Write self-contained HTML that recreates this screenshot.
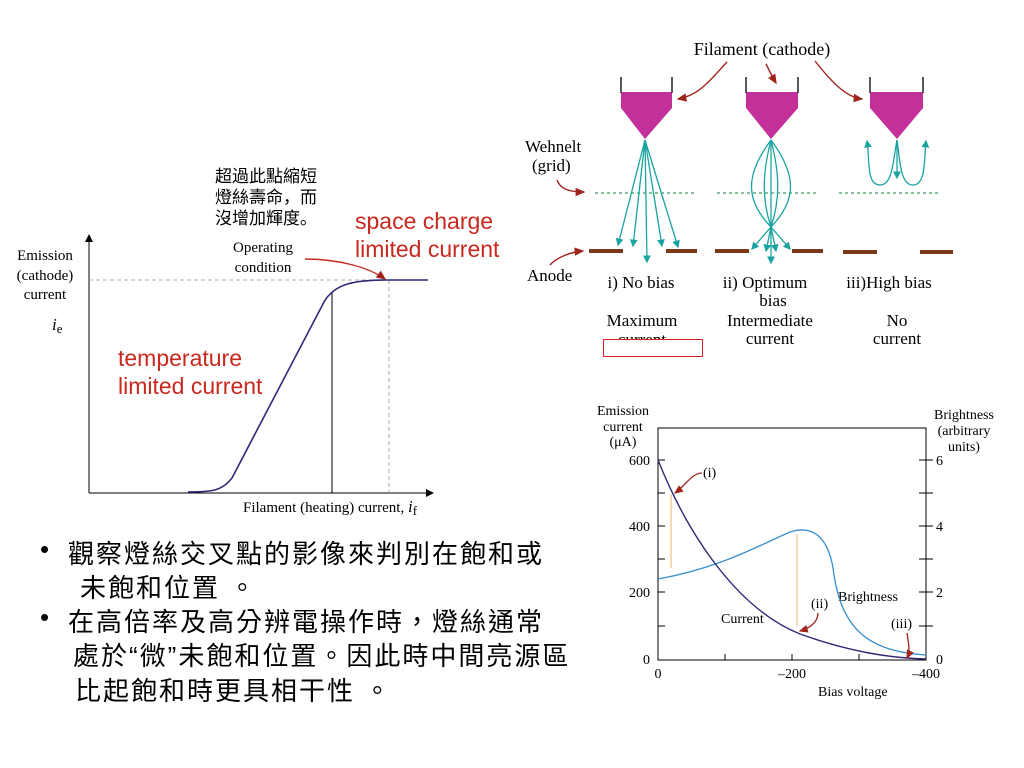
<!DOCTYPE html>
<html><head><meta charset="utf-8"><style>
body{margin:0;background:#fff;width:1024px;height:768px;overflow:hidden;position:relative}
svg{position:absolute;left:0;top:0}
.cj{position:absolute;font-family:"Liberation Sans","WenQuanYi Zen Hei","Noto Sans CJK TC",sans-serif;font-size:26px;letter-spacing:2px;white-space:nowrap;color:#000}
</style></head><body>
<svg width="1024" height="768" viewBox="0 0 1024 768" font-family="Liberation Serif, serif">
<defs>
<marker id="ar" markerWidth="8" markerHeight="8" refX="6" refY="3" orient="auto"><path d="M0,0L7,3L0,6z" fill="#a0231c"/></marker>
<marker id="at" markerWidth="7" markerHeight="7" refX="5" refY="3" orient="auto"><path d="M0,0L6,3L0,6z" fill="#1aa3a0"/></marker>
<marker id="ab" markerWidth="10" markerHeight="10" refX="4" refY="4" orient="auto"><path d="M0,0L8,4L0,8z" fill="#000"/></marker>
</defs>
<!-- left chart -->
<text x="215" y="182" font-family="Liberation Sans, WenQuanYi Zen Hei, sans-serif" font-size="17">超過此點縮短</text>
<text x="215" y="203" font-family="Liberation Sans, WenQuanYi Zen Hei, sans-serif" font-size="17">燈絲壽命，而</text>
<text x="215" y="224" font-family="Liberation Sans, WenQuanYi Zen Hei, sans-serif" font-size="17">沒增加輝度。</text>
<text x="355" y="229" font-family="Liberation Sans, sans-serif" font-size="23" fill="#c8281e">space charge</text>
<text x="355" y="257" font-family="Liberation Sans, sans-serif" font-size="23" fill="#c8281e">limited current</text>
<text x="118" y="366" font-family="Liberation Sans, sans-serif" font-size="23" fill="#c8281e">temperature</text>
<text x="118" y="394" font-family="Liberation Sans, sans-serif" font-size="23" fill="#c8281e">limited current</text>
<text x="45" y="260" text-anchor="middle" font-size="15">Emission</text>
<text x="45" y="280" text-anchor="middle" font-size="15">(cathode)</text>
<text x="45" y="299" text-anchor="middle" font-size="15">current</text>
<text x="52" y="330" font-size="17" font-style="italic">i<tspan font-size="13" font-style="normal" dy="3">e</tspan></text>
<text x="263" y="252" text-anchor="middle" font-size="15">Operating</text>
<text x="263" y="272" text-anchor="middle" font-size="15">condition</text>
<text x="243" y="512" font-size="15">Filament (heating) current, <tspan font-style="italic" font-size="17">i</tspan><tspan font-size="13" dy="3">f</tspan></text>
<line x1="89" y1="493" x2="89" y2="238" stroke="#000" marker-end="url(#ab)"/>
<line x1="89" y1="493" x2="430" y2="493" stroke="#000" marker-end="url(#ab)"/>
<line x1="89" y1="280" x2="389" y2="280" stroke="#aaa" stroke-dasharray="4,3"/>
<line x1="389" y1="280" x2="389" y2="493" stroke="#aaa" stroke-dasharray="4,3"/>
<line x1="332" y1="293" x2="332" y2="493" stroke="#000"/>
<path d="M188,492 C215,492 222,490 232,478 L324,302 C335,283 355,280 389,280 L428,280" fill="none" stroke="#2e2a78" stroke-width="1.6"/>
<path d="M305,259 C340,259 370,268 385,279" fill="none" stroke="#c8281e" stroke-width="1.4" marker-end="url(#ar)"/>
<!-- top right diagram -->
<text x="762" y="55" text-anchor="middle" font-size="18">Filament (cathode)</text>
<g fill="#c3309a" stroke="none">
<path d="M621,92 L672,92 L672,108 L645,139 L621,108z"/>
<path d="M746,92 L798,92 L798,108 L771,139 L746,108z"/>
<path d="M870,92 L923,92 L923,108 L897,139 L870,108z"/>
</g>
<g stroke="#222" stroke-width="1.5">
<line x1="621" y1="77" x2="621" y2="93"/><line x1="672" y1="77" x2="672" y2="93"/>
<line x1="746" y1="77" x2="746" y2="93"/><line x1="798" y1="77" x2="798" y2="93"/>
<line x1="870" y1="77" x2="870" y2="93"/><line x1="923" y1="77" x2="923" y2="93"/>
</g>
<g fill="none" stroke="#a0231c" stroke-width="1.4" marker-end="url(#ar)">
<path d="M727,62 C710,80 700,95 678,99"/>
<path d="M766,64 C770,72 773,78 776,83"/>
<path d="M815,61 C830,80 845,97 862,99"/>
<path d="M557,180 C560,188 567,192 584,192"/>
<path d="M550,265 C556,258 570,252 583,251"/>
</g>
<g stroke="#3aa060" stroke-dasharray="3,3" stroke-width="1.2">
<line x1="595" y1="193" x2="697" y2="193"/><line x1="717" y1="193" x2="818" y2="193"/><line x1="839" y1="193" x2="940" y2="193"/>
</g>
<g fill="#7a3a1a">
<rect x="589" y="249" width="34" height="4"/><rect x="666" y="249" width="31" height="4"/>
<rect x="715" y="249" width="34" height="4"/><rect x="792" y="249" width="31" height="4"/>
<rect x="843" y="250" width="34" height="4"/><rect x="920" y="250" width="33" height="4"/>
</g>
<g fill="none" stroke="#1aa3a0" stroke-width="1.3" marker-end="url(#at)">
<line x1="645" y1="140" x2="618" y2="245"/>
<line x1="645" y1="140" x2="633" y2="246"/>
<line x1="645" y1="140" x2="647" y2="262"/>
<line x1="645" y1="140" x2="662" y2="246"/>
<line x1="645" y1="140" x2="678" y2="247"/>
<path d="M771,140 C745,175 745,200 771,227 L752,249"/>
<path d="M771,140 C762,175 762,200 771,227 L766,251"/>
<line x1="771" y1="140" x2="771" y2="263"/>
<path d="M771,140 C780,175 780,200 771,227 L776,251"/>
<path d="M771,140 C797,175 797,200 771,227 L790,249"/>
<path d="M897,140 C893,160 893,185 880,185 C866,185 870,160 867,141"/>
<line x1="897" y1="140" x2="897" y2="178"/>
<path d="M897,140 C900,160 900,185 913,185 C926,185 924,160 926,141"/>
</g>
<text x="525" y="152" font-size="17">Wehnelt</text>
<text x="532" y="171" font-size="17">(grid)</text>
<text x="527" y="281" font-size="17">Anode</text>
<text x="641" y="288" text-anchor="middle" font-size="17">i) No bias</text>
<text x="765" y="288" text-anchor="middle" font-size="17">ii) Optimum</text>
<text x="773" y="306" text-anchor="middle" font-size="17">bias</text>
<text x="889" y="288" text-anchor="middle" font-size="17">iii)High bias</text>
<text x="642" y="326" text-anchor="middle" font-size="17">Maximum</text>
<text x="642" y="345" text-anchor="middle" font-size="17">current</text>
<text x="770" y="326" text-anchor="middle" font-size="17">Intermediate</text>
<text x="770" y="344" text-anchor="middle" font-size="17">current</text>
<text x="897" y="326" text-anchor="middle" font-size="17">No</text>
<text x="897" y="344" text-anchor="middle" font-size="17">current</text>
<rect x="603.5" y="339.5" width="99" height="17" fill="#fff" stroke="#e02020" stroke-width="1"/>
<!-- bottom right chart -->
<rect x="658" y="428" width="268" height="232" fill="none" stroke="#000" stroke-width="1"/>
<g stroke="#000" stroke-width="1">
<line x1="658" y1="460" x2="665" y2="460"/><line x1="658" y1="493" x2="665" y2="493"/><line x1="658" y1="526" x2="665" y2="526"/><line x1="658" y1="559" x2="665" y2="559"/><line x1="658" y1="592" x2="665" y2="592"/><line x1="658" y1="626" x2="665" y2="626"/>
<line x1="919" y1="460" x2="933" y2="460"/><line x1="919" y1="493" x2="933" y2="493"/><line x1="919" y1="526" x2="933" y2="526"/><line x1="919" y1="559" x2="933" y2="559"/><line x1="919" y1="592" x2="933" y2="592"/><line x1="919" y1="626" x2="933" y2="626"/>
<line x1="725" y1="660" x2="725" y2="654"/><line x1="792" y1="660" x2="792" y2="654"/><line x1="859" y1="660" x2="859" y2="654"/>
</g>
<g font-size="14">
<text x="623" y="415" text-anchor="middle">Emission</text>
<text x="623" y="431" text-anchor="middle">current</text>
<text x="623" y="446" text-anchor="middle">(μA)</text>
<text x="964" y="419" text-anchor="middle">Brightness</text>
<text x="964" y="435" text-anchor="middle">(arbitrary</text>
<text x="964" y="451" text-anchor="middle">units)</text>
<text x="650" y="465" text-anchor="end">600</text>
<text x="650" y="531" text-anchor="end">400</text>
<text x="650" y="597" text-anchor="end">200</text>
<text x="650" y="664" text-anchor="end">0</text>
<text x="936" y="465">6</text><text x="936" y="531">4</text><text x="936" y="597">2</text><text x="936" y="664">0</text>
<text x="658" y="678" text-anchor="middle">0</text>
<text x="792" y="678" text-anchor="middle">–200</text>
<text x="926" y="678" text-anchor="middle">–400</text>
<text x="818" y="696">Bias voltage</text>
<text x="721" y="623">Current</text>
<text x="838" y="601">Brightness</text>
<text x="703" y="477">(i)</text>
<text x="811" y="608">(ii)</text>
<text x="891" y="628">(iii)</text>
</g>
<line x1="671" y1="494" x2="671" y2="568" stroke="#f0c080" stroke-width="1.2"/>
<line x1="797" y1="534" x2="797" y2="626" stroke="#f0c080" stroke-width="1.2"/>
<path d="M658,579 C720,568 760,545 790,532 C815,524 830,540 834,575 C842,630 870,652 926,655" fill="none" stroke="#3a8fd0" stroke-width="1.3"/>
<path d="M658,460 C690,540 740,610 800,634 C850,652 890,658 926,659" fill="none" stroke="#2e2a78" stroke-width="1.4"/>
<g fill="none" stroke="#a0231c" stroke-width="1.3" marker-end="url(#ar)">
<path d="M702,473 C692,473 686,485 675,493"/>
<path d="M818,613 C818,622 810,628 800,631"/>
<path d="M907,633 C909,645 910,652 907,658"/>
</g>
</svg>
<div class="cj" style="left:40px;top:534px;letter-spacing:0">•</div>
<div class="cj" style="left:68px;top:534px">觀察燈絲交叉點的影像來判別在飽和或</div>
<div class="cj" style="left:80px;top:568px">未飽和位置 。</div>
<div class="cj" style="left:40px;top:602px;letter-spacing:0">•</div>
<div class="cj" style="left:68px;top:602px">在高倍率及高分辨電操作時，燈絲通常</div>
<div class="cj" style="left:73px;top:636px;letter-spacing:2px">處於“微”未飽和位置。因此時中間亮源區</div>
<div class="cj" style="left:75px;top:671px">比起飽和時更具相干性 。</div>
</body></html>
